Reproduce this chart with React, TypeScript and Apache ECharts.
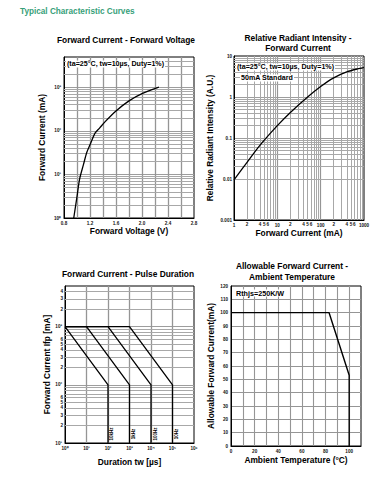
import React, { useEffect, useRef } from 'react';
import * as echarts from 'echarts';

const FONT = '"Liberation Sans", Arial, Helvetica, sans-serif';
const GRID = '#9d9d9d';
const HEAD_GREEN = '#37a079';

// Chart 1: Forward Current - Forward Voltage
const vfVoltage = [0.95, 1.0, 1.04, 1.1, 1.15, 1.2, 1.28, 1.35, 1.43, 1.6, 1.8, 2.0, 2.26];
const vfCurrent = [1, 3.1, 7.8, 17, 32, 48, 90, 118, 162, 288, 490, 720, 1020];
const vfXLabels = [0.8, 1.2, 1.6, 2.0, 2.4, 2.8];

// Chart 2: Relative Radiant Intensity - Forward Current
const riCurrent = [1, 2, 4, 10, 20, 50, 100, 200, 400, 700, 1000];
const riIntensity = [0.0095, 0.0255, 0.067, 0.2, 0.42, 1.0, 1.8, 2.93, 4.08, 4.83, 5.19];
const riXMinorLabels = ['2', '4', '5', '6'];

// Chart 3: Forward Current - Pulse Duration
const pulseFlatEnd = [1, 10, 100, 1000];
const pulseSlopeEnd = [100, 1000, 10000, 100000];
const pulsePeak = 1000;
const pulseKnee = 100;
const pulseFloor = 10;
const pulseFreqs = ['10kHz', '1kHz', '100Hz', '10Hz'];
const pulseYMinorLabels = ['2', '3', '4', '5', '6'];

// Chart 4: Allowable Forward Current - Ambient Temperature
const deratingTemp = [0, 83, 100, 100];
const deratingCurrent = [100, 100, 53, 0];

const SUP = ['⁰', '¹', '²', '³', '⁴', '⁵', '⁶'];
const powLabel = (v: number) => {
  const e = Math.log10(v);
  const r = Math.round(e);
  return Math.abs(e - r) < 1e-6 ? '10' + SUP[r] : '';
};
const minors = (fromExp: number, toExp: number, maxVal = Infinity) => {
  const out: number[] = [];
  for (let e = fromExp; e < toExp; e++) {
    for (let m = 2; m <= 9; m++) {
      const v = Number((m * Math.pow(10, e)).toPrecision(3));
      if (v < maxVal) out.push(v);
    }
  }
  return out;
};
const mantissa = (v: number) => String(Math.round(v / Math.pow(10, Math.floor(Math.log10(v) + 1e-9))));

const tickLabel = { fontFamily: FONT, fontSize: 4.6, fontWeight: 'bold', color: '#111', margin: 3 };
const nameStyle = { fontFamily: FONT, fontSize: 8.4, fontWeight: 'bold', color: '#000' };
const axisLine = { show: true, lineStyle: { color: '#000', width: 1 } };
const split = (w = 1, c = GRID) => ({ show: true, showMinLine: false, showMaxLine: false, lineStyle: { color: c, width: w } });

const lineSeriesBase = {
  type: 'line',
  showSymbol: false,
  symbol: 'none',
  silent: true,
  z: 5,
  lineStyle: { color: '#000', width: 1.3 },
};

function gridLineSeries(idx: number, items: any[]) {
  return {
    type: 'line',
    xAxisIndex: idx,
    yAxisIndex: idx,
    data: [],
    silent: true,
    z: 1,
    markLine: {
      silent: true,
      animation: false,
      symbol: ['none', 'none'],
      label: { show: false },
      lineStyle: { color: '#a8a8a8', width: 1, type: 'solid' },
      data: items,
    },
  };
}

const mlLabel = (text: string) => ({
  show: true,
  position: 'start',
  formatter: text,
  distance: 2,
  fontFamily: FONT,
  fontSize: 4.6,
  fontWeight: 'bold',
  color: '#111',
});

function textEl(text: string, x: number, y: number, size: number, opts: any = {}) {
  return {
    type: 'text',
    x,
    y,
    rotation: opts.rotation || 0,
    silent: true,
    z: 50,
    style: {
      text,
      fill: opts.color || '#000',
      fontFamily: FONT,
      fontSize: size,
      fontWeight: 'bold',
      align: opts.align || 'center',
      textAlign: opts.align || 'center',
      verticalAlign: 'middle',
      textVerticalAlign: 'middle',
      lineHeight: opts.lineHeight,
      backgroundColor: opts.bg,
      padding: opts.bg ? [0, 1] : undefined,
    },
  };
}

export default function App() {
  const ref = useRef<HTMLDivElement>(null);
  useEffect(() => {
    if (!ref.current) return;
    const chart = echarts.init(ref.current, null, { renderer: 'svg' });

    const tlMinorY = minors(0, 4, 5000).map((v) => ({ yAxis: v }));
    const trMinorX = minors(0, 3).map((v) =>
      riXMinorLabels.includes(mantissa(v)) ? { xAxis: v, label: mlLabel(mantissa(v)) } : { xAxis: v }
    );
    const trMinorY = minors(-3, 1).map((v) => ({ yAxis: v }));
    const blMinorY: any[] = minors(1, 4, 5000).map((v) =>
      pulseYMinorLabels.includes(mantissa(v)) ? { yAxis: v, label: mlLabel(mantissa(v)) } : { yAxis: v }
    );
    blMinorY.push({ yAxis: 5000, label: mlLabel('5'), lineStyle: { opacity: 0 } });

    const option: any = {
      animation: false,
      backgroundColor: '#fff',
      grid: [
        { left: 64, top: 57, width: 130, height: 161, show: true, borderColor: '#000', borderWidth: 1, outerBoundsMode: 'none' },
        { left: 234, top: 56, width: 130, height: 164, show: true, borderColor: '#000', borderWidth: 1, outerBoundsMode: 'none' },
        { left: 65, top: 286, width: 129, height: 157, show: true, borderColor: '#000', borderWidth: 1, outerBoundsMode: 'none' },
        { left: 231, top: 286, width: 130, height: 160, show: true, borderColor: '#000', borderWidth: 1, outerBoundsMode: 'none' },
      ],
      xAxis: [
        {
          gridIndex: 0, type: 'value', min: 0.8, max: 2.8, interval: 0.2,
          axisLine, axisTick: { show: false }, splitLine: split(1.3, '#959595'),
          axisLabel: {
            ...tickLabel, showMinLabel: true, showMaxLabel: true,
            formatter: (v: number) => (vfXLabels.some((l) => Math.abs(l - v) < 1e-6) ? v.toFixed(1) : ''),
          },
          name: 'Forward Voltage (V)', nameLocation: 'middle', nameGap: 9, nameTextStyle: nameStyle,
        },
        {
          gridIndex: 1, type: 'log', logBase: 10, min: 1, max: 1000,
          axisLine, axisTick: { show: false }, splitLine: split(1.2, '#959595'),
          axisLabel: { ...tickLabel, showMinLabel: true, showMaxLabel: true, formatter: (v: number) => String(Math.round(v)) },
          name: 'Forward Current (mA)', nameLocation: 'middle', nameGap: 8, nameTextStyle: nameStyle,
        },
        {
          gridIndex: 2, type: 'log', logBase: 10, min: 1, max: 1e6, splitNumber: 6,
          axisLine, axisTick: { show: false }, splitLine: split(1.3, '#959595'),
          axisLabel: { ...tickLabel, showMinLabel: true, showMaxLabel: true, formatter: powLabel },
          name: 'Duration tw [µs]', nameLocation: 'middle', nameGap: 15, nameTextStyle: nameStyle,
        },
        {
          gridIndex: 3, type: 'value', min: 0, max: 110, interval: 10,
          axisLine, axisTick: { show: false }, splitLine: split(1.1, '#959595'),
          axisLabel: {
            ...tickLabel, showMinLabel: true, showMaxLabel: true,
            formatter: (v: number) => (v % 20 === 0 && v <= 100 ? String(v) : ''),
          },
          name: 'Ambient Temperature (°C)', nameLocation: 'middle', nameGap: 10, nameTextStyle: nameStyle,
        },
      ],
      yAxis: [
        {
          gridIndex: 0, type: 'log', logBase: 10, min: 1, max: 5000,
          axisLine, axisTick: { show: false }, splitLine: split(1.2),
          axisLabel: { ...tickLabel, showMinLabel: true, showMaxLabel: false, formatter: powLabel },
          name: 'Forward Current (mA)', nameLocation: 'middle', nameGap: 18, nameTextStyle: nameStyle,
        },
        {
          gridIndex: 1, type: 'log', logBase: 10, min: 0.001, max: 10,
          axisLine, axisTick: { show: false }, splitLine: split(1.2),
          axisLabel: { ...tickLabel, margin: 2, showMinLabel: true, showMaxLabel: true, formatter: (v: number) => String(Number(v.toPrecision(3))) },
          name: 'Relative Radiant Intensity (A.U.)', nameLocation: 'middle', nameGap: 20, nameTextStyle: nameStyle,
        },
        {
          gridIndex: 2, type: 'log', logBase: 10, min: 10, max: 5000,
          axisLine, axisTick: { show: false }, splitLine: split(1.2),
          axisLabel: { ...tickLabel, showMinLabel: true, showMaxLabel: false, formatter: powLabel },
          name: 'Forward Current Ifp [mA]', nameLocation: 'middle', nameGap: 13, nameTextStyle: nameStyle,
        },
        {
          gridIndex: 3, type: 'value', min: 0, max: 120, interval: 10,
          axisLine, axisTick: { show: false }, splitLine: split(1.1, '#959595'),
          axisLabel: { ...tickLabel, showMinLabel: true, showMaxLabel: true },
          name: 'Allowable Forward Current(mA)', nameLocation: 'middle', nameGap: 16, nameTextStyle: nameStyle,
        },
      ],
      series: [
        gridLineSeries(0, tlMinorY),
        gridLineSeries(1, [...trMinorX, ...trMinorY]),
        gridLineSeries(2, blMinorY),
        {
          ...lineSeriesBase, xAxisIndex: 0, yAxisIndex: 0, smooth: 0.3,
          data: vfVoltage.map((v, i) => [v, vfCurrent[i]]),
        },
        {
          ...lineSeriesBase, xAxisIndex: 1, yAxisIndex: 1, smooth: 0.3,
          data: riCurrent.map((v, i) => [v, riIntensity[i]]),
        },
        ...pulseFlatEnd.map((flat, i) => ({
          ...lineSeriesBase, xAxisIndex: 2, yAxisIndex: 2,
          lineStyle: { color: '#000', width: 1.3 },
          data: [
            [1, pulsePeak],
            [flat, pulsePeak],
            [pulseSlopeEnd[i], pulseKnee],
            [pulseSlopeEnd[i], pulseFloor],
          ],
        })),
        {
          ...lineSeriesBase, xAxisIndex: 3, yAxisIndex: 3,
          lineStyle: { color: '#000', width: 1.4 },
          data: deratingTemp.map((t, i) => [t, deratingCurrent[i]]),
        },
      ],
      graphic: [
        textEl('Typical Characteristic Curves', 20, 11, 8.2, { align: 'left', color: HEAD_GREEN }),
        textEl('Forward Current - Forward Voltage', 126, 40, 8.4),
        textEl('Relative Radiant Intensity -\nForward Current', 298, 43, 8.4, { lineHeight: 10 }),
        textEl('Forward Current - Pulse Duration', 128, 274, 8.4),
        textEl('Allowable Forward Current -\nAmbient Temperature', 292, 271.5, 8.4, { lineHeight: 11 }),
        textEl('(ta=25°C, tw=10µs, Duty=1%)', 66, 64, 7.1, { align: 'left', bg: '#fff' }),
        textEl('(ta=25°C, tw=10µs, Duty=1%)', 236, 67, 7.1, { align: 'left', bg: '#fff' }),
        textEl('50mA Standard', 240, 78, 7.1, { align: 'left', bg: '#fff' }),
        textEl('Rthjs=250K/W', 235, 293, 7.2, { align: 'left', bg: '#fff' }),
        ...pulseFreqs.map((f, i) =>
          textEl(f, [111.5, 133.5, 155, 176.5][i], 434, 4.5, { rotation: Math.PI / 2 })
        ),
      ],
    };
    chart.setOption(option);
    return () => chart.dispose();
  }, []);

  return (
    <div
      ref={ref}
      style={{ position: 'absolute', left: 0, top: 0, width: 383, height: 491, background: '#fff' }}
    />
  );
}
